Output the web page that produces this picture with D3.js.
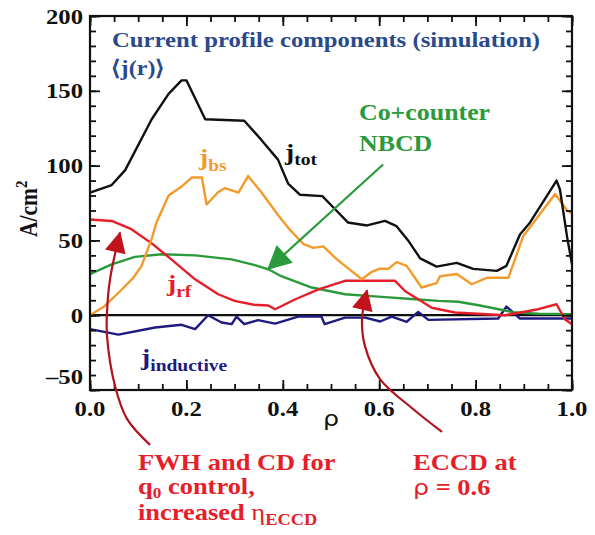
<!DOCTYPE html>
<html>
<head>
<meta charset="utf-8">
<script src="https://cdn.jsdelivr.net/npm/d3@7"></script>
<style>
  body { margin: 0; background: #fff; }
</style>
</head>
<body>
<svg id="chart" width="595" height="535"></svg>
<script>
// Current density profile components, j (A/cm^2) versus normalized radius rho
const rhoTot = [0, 0.045, 0.073, 0.128, 0.163, 0.19, 0.2, 0.239, 0.32, 0.356, 0.39, 0.411, 0.436, 0.482, 0.508, 0.535, 0.575, 0.612, 0.636, 0.66, 0.685, 0.719, 0.761, 0.795, 0.844, 0.864, 0.892, 0.913, 0.968, 0.975, 0.99, 1.0];
const jTot   = [82, 87, 97, 131, 148, 157, 157, 131, 130, 117, 104, 88, 80.5, 79.6, 71, 62, 60, 63, 59.5, 50, 38, 32.5, 35, 31, 29.6, 33, 54, 62, 90, 84, 52, 34];

const rhoBs = [0, 0.03, 0.059, 0.09, 0.107, 0.128, 0.138, 0.163, 0.19, 0.211, 0.232, 0.242, 0.265, 0.28, 0.308, 0.328, 0.356, 0.39, 0.415, 0.443, 0.463, 0.484, 0.51, 0.529, 0.564, 0.585, 0.6, 0.619, 0.636, 0.657, 0.688, 0.719, 0.726, 0.761, 0.792, 0.823, 0.868, 0.899, 0.965, 0.99, 1.0];
const jBs   = [0, 6, 15, 25, 33, 51, 62, 80, 86, 92, 92, 74, 82, 85, 82, 93, 82, 67, 57, 47.5, 45, 46, 38, 33, 24, 29, 31, 31, 35.5, 33, 18.5, 21.5, 26, 27.5, 20.7, 25, 25, 53, 81, 70, 68];

const rhoRf = [0, 0.045, 0.086, 0.128, 0.17, 0.218, 0.266, 0.3, 0.34, 0.37, 0.384, 0.425, 0.474, 0.529, 0.633, 0.654, 0.681, 0.709, 0.757, 0.861, 0.93, 0.968, 0.985, 1.0];
const jRf   = [64, 63, 57.5, 48, 37, 24, 14, 9.6, 7, 6.5, 4, 10.5, 17.3, 23, 23, 16, 10.7, 5, 1.8, 0, 4, 7.3, -2.7, -6];

const rhoNb = [0, 0.045, 0.093, 0.149, 0.218, 0.294, 0.342, 0.37, 0.394, 0.46, 0.529, 0.598, 0.674, 0.723, 0.764, 0.809, 0.878, 0.93, 1.0];
const jNb   = [27.5, 34, 39, 40.7, 40, 37.3, 33.5, 30.7, 26.5, 18.5, 14, 12.4, 10.7, 9.6, 9, 6.5, 2, 1, 0.7];

const rhoInd = [0, 0.059, 0.135, 0.19, 0.218, 0.245, 0.273, 0.294, 0.304, 0.32, 0.349, 0.384, 0.432, 0.48, 0.487, 0.529, 0.571, 0.602, 0.626, 0.657, 0.681, 0.702, 0.847, 0.864, 0.892, 1.0];
const jInd   = [-9.3, -13, -8.2, -6.4, -9.3, 0, -4.9, -6, -0.9, -6, -3.3, -5.6, -0.9, -0.9, -6, -1.6, -1.6, -4.2, -0.9, -4.4, 2.2, -3.1, -2.2, 5.8, -2.2, -2.2];

// Annotation arrows, in data coordinates (rho, j)
const nbcdArrow = [[0.608, 100.7], [0.369, 30.7]];
const fwhArrow  = [[0.1245, -86.7], [0.0768, -69.3], [0.0519, -47.3], [0.0353, -14], [0.0353, 2], [0.0415, 24], [0.0622, 55.3]];
const ecArrow   = [[0.7303, -78], [0.6701, -62.7], [0.6017, -42.7], [0.5705, -20.7], [0.5643, -2.7], [0.5747, 16.7]];

const xTicks = [0, 0.2, 0.4, 0.6, 0.8, 1.0];
const xTickLabels = ["0.0", "0.2", "0.4", "0.6", "0.8", "1.0"];
const yTicks = [-50, 0, 50, 100, 150, 200];
const yTickLabels = ["\u201350", "0", "50", "100", "150", "200"];

const C = {
  tot: "#111111", bs: "#f29b2c", rf: "#e61e2a", nb: "#2b9a3b", ind: "#1e1a80",
  title: "#2a4a8c", arrow: "#b0131d", head: "#c2121c"
};
const SERIF = "'Liberation Serif', 'Times New Roman', Times, serif";
const SX = 1.15;  // horizontal widening of all lettering

const svg = d3.select("#chart");
const x = d3.scaleLinear().domain([0, 1]).range([90, 572]);
const y = d3.scaleLinear().domain([-50, 200]).range([390, 16]);

// arrowhead markers
const defs = svg.append("defs");
function marker(id, len, wid, fill) {
  defs.append("marker").attr("id", id)
    .attr("viewBox", "0 0 10 10").attr("refX", 9.5).attr("refY", 5)
    .attr("markerUnits", "userSpaceOnUse")
    .attr("markerWidth", len).attr("markerHeight", wid)
    .attr("orient", "auto")
    .append("path").attr("d", "M0,0 L10,5 L0,10 Z").attr("fill", fill);
}
marker("headGreen", 26, 24, C.nb);
marker("headRed", 22, 21, C.head);

// zero line
svg.append("line").attr("x1", x(0)).attr("x2", x(1)).attr("y1", y(0)).attr("y2", y(0))
  .attr("stroke", "#111").attr("stroke-width", 2.2);

// curves
const line = d3.line().x(d => x(d[0])).y(d => y(d[1]));
const series = [
  [rhoInd, jInd, C.ind],
  [rhoNb, jNb, C.nb],
  [rhoRf, jRf, C.rf],
  [rhoBs, jBs, C.bs],
  [rhoTot, jTot, C.tot]
];
series.forEach(([r, v, col]) => {
  svg.append("path").datum(r.map((d, i) => [d, v[i]]))
    .attr("d", line).attr("fill", "none").attr("stroke", col)
    .attr("stroke-width", 2.4).attr("stroke-linejoin", "round");
});

// frame with inward ticks on all four sides
const minorX = d3.range(0, 1.0001, 0.05);
const minorY = d3.range(-50, 200.001, 10);
function ticks(axis, vals, size, tr) {
  const g = svg.append("g").attr("transform", tr)
    .call(axis.tickValues(vals).tickSize(size).tickFormat(""));
  g.select(".domain").remove();
  g.selectAll(".tick line").attr("stroke", "#111").attr("stroke-width", 1.8);
}
ticks(d3.axisBottom(x), minorX, -6, `translate(0,${y(-50)})`);
ticks(d3.axisBottom(x), xTicks, -10, `translate(0,${y(-50)})`);
ticks(d3.axisTop(x), minorX, -6, `translate(0,${y(200)})`);
ticks(d3.axisTop(x), xTicks, -10, `translate(0,${y(200)})`);
ticks(d3.axisLeft(y), minorY, -6, `translate(${x(0)},0)`);
ticks(d3.axisLeft(y), yTicks, -10, `translate(${x(0)},0)`);
ticks(d3.axisRight(y), minorY, -6, `translate(${x(1)},0)`);
ticks(d3.axisRight(y), yTicks, -10, `translate(${x(1)},0)`);
svg.append("rect").attr("x", x(0)).attr("y", y(200))
  .attr("width", x(1) - x(0)).attr("height", y(-50) - y(200))
  .attr("fill", "none").attr("stroke", "#111").attr("stroke-width", 2.2);

// lettering helper: parts = [[text, {size, dy, weight, family}], ...]
function label(x0, y0, parts, color, anchor = "start", rotate = 0) {
  const t = svg.append("text")
    .attr("transform", `translate(${x0},${y0}) rotate(${rotate}) scale(${rotate ? 1 : SX},${rotate ? SX : 1})`)
    .attr("font-family", SERIF)
    .attr("fill", color).attr("text-anchor", anchor).attr("font-weight", "bold");
  parts.forEach(([s, o]) => {
    const ts = t.append("tspan").text(s).attr("font-size", o.size);
    if (o.dy) ts.attr("dy", o.dy);
    if (o.weight) ts.attr("font-weight", o.weight);
    if (o.family) ts.attr("font-family", o.family);
  });
  return t;
}

// tick labels
xTicks.forEach((v, i) => label(x(v), 416, [[xTickLabels[i], { size: 21.5 }]], "#111", "middle"));
yTicks.forEach((v, i) => label(83, y(v) + (v === -50 ? -6 : 7.5), [[yTickLabels[i], { size: 21.5 }]], "#111", "end"));

// axis titles
label(331, 426, [["\u03c1", { size: 22, weight: "normal", family: "'DejaVu Sans', sans-serif" }]], "#111", "middle");
label(37, 237, [["A/cm", { size: 21.5 }], ["2", { size: 15, dy: -9 }]], "#111", "start", -90);

// chart title
label(112, 47, [["Current profile components (simulation)", { size: 21.5 }]], C.title);
label(111, 75, [["\u27e8j(r)\u27e9", { size: 21 }]], C.title);

// series names
label(285, 160, [["j", { size: 24 }], ["tot", { size: 17, dy: 5 }]], C.tot);
label(199, 165, [["j", { size: 24 }], ["bs", { size: 17, dy: 6 }]], C.bs);
label(167, 291, [["j", { size: 24 }], ["rf", { size: 17, dy: 6 }]], C.rf);
label(141, 365, [["j", { size: 24 }], ["inductive", { size: 17, dy: 6 }]], C.ind);
label(359, 120, [["Co+counter", { size: 22.5 }]], C.nb);
label(359, 151, [["NBCD", { size: 22.5 }]], C.nb);

// arrows
svg.append("path").datum(nbcdArrow).attr("d", line)
  .attr("fill", "none").attr("stroke", C.nb).attr("stroke-width", 2.2)
  .attr("marker-end", "url(#headGreen)");
const curve = d3.line().x(d => x(d[0])).y(d => y(d[1])).curve(d3.curveCatmullRom.alpha(0.5));
[fwhArrow, ecArrow].forEach(pts => {
  svg.append("path").datum(pts).attr("d", curve)
    .attr("fill", "none").attr("stroke", C.arrow).attr("stroke-width", 2.2)
    .attr("marker-end", "url(#headRed)");
});

// annotations
label(138, 470, [["FWH and CD for", { size: 23 }]], C.rf);
label(138, 494, [["q", { size: 23 }], ["0", { size: 15, dy: 4 }], [" control,", { size: 23, dy: -4 }]], C.rf);
label(138, 520, [["increased ", { size: 23 }], ["\u03b7", { size: 23, weight: "normal" }], ["ECCD", { size: 16, dy: 5 }]], C.rf);
label(413, 470, [["ECCD at", { size: 23 }]], C.rf);
label(413, 495, [["\u03c1", { size: 22, weight: "normal", family: "'DejaVu Sans', sans-serif" }], [" = 0.6", { size: 23 }]], C.rf);
</script>
</body>
</html>
